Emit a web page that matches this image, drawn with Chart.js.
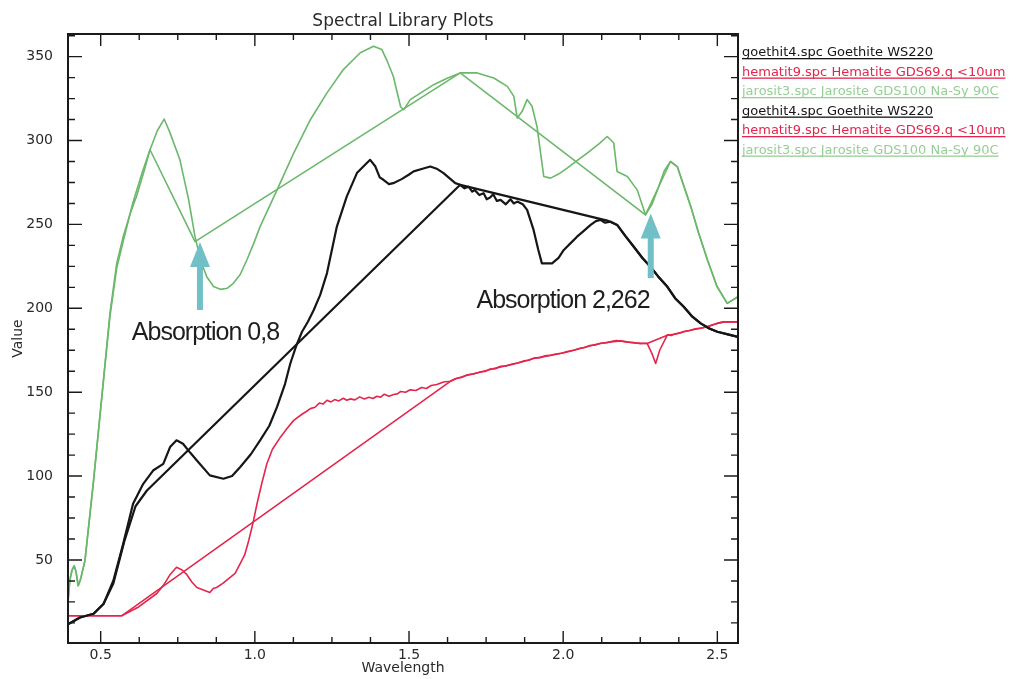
<!DOCTYPE html>
<html><head><meta charset="utf-8">
<script src="https://cdn.jsdelivr.net/npm/chart.js@4.4.1/dist/chart.umd.min.js"></script>
<style>html,body{margin:0;padding:0;background:#fff;overflow:hidden}canvas{display:block}</style>
</head><body>
<canvas id="c" width="1021" height="679"></canvas>
<script>
// ---- data ----
const legendLabels = [
  'goethit4.spc Goethite WS220',
  'hematit9.spc Hematite GDS69.q <10um',
  'jarosit3.spc Jarosite GDS100 Na-Sy 90C'
];
const xTickLabels = ['0.5', '1.0', '1.5', '2.0', '2.5'];
const yTickLabels = ['50', '100', '150', '200', '250', '300', '350'];
const annotationTexts = ['Absorption 0,8', 'Absorption 2,262'];
const annotationWl = [0.822, 2.284];

const goethiteWl = [0.395,0.433,0.477,0.509,0.541,0.573,0.605,0.638,0.670,0.703,0.725,0.746,0.767,0.790,0.812,0.854,0.898,0.926,0.952,0.987,1.017,1.047,1.072,1.098,1.115,1.135,1.153,1.172,1.191,1.212,1.234,1.266,1.298,1.331,1.360,1.374,1.391,1.405,1.417,1.435,1.449,1.476,1.499,1.515,1.541,1.569,1.592,1.612,1.650,1.666,1.680,1.693,1.705,1.713,1.728,1.742,1.752,1.763,1.773,1.785,1.797,1.814,1.829,1.840,1.851,1.869,1.883,1.904,1.919,1.931,1.964,1.985,2.002,2.025,2.045,2.066,2.089,2.106,2.121,2.136,2.153,2.175,2.202,2.229,2.257,2.283,2.308,2.338,2.363,2.391,2.419,2.446,2.474,2.500,2.534,2.567];
const goethiteVal = [11.8,15.7,17.9,23.7,37.6,59.6,83.5,95.4,103.3,107.3,117.3,121.3,119.3,114,109.3,100.4,98.4,100,105.3,113,121.3,130,141.2,155,167.1,178,186,192,199,208,221,248.7,266.6,280.6,286,288.5,284.5,278,276.6,274,274.6,277,279.6,281.6,283,284.5,283,280.6,274.6,273.6,271.5,272.5,269.5,270.5,267.5,268.6,265,266,268,264,264.6,262,265,262.5,263.6,262,258.7,246.7,235,226.8,226.8,230,234.8,239,242.7,246,249.7,252,252.7,251,251.7,249.7,243,236.7,230,224.8,219,212.8,206,200.9,195,191,188,186,184.5,183];

const goethiteHullWl = [0.395,0.433,0.477,0.509,0.541,0.578,0.613,0.650,1.666,2.143,2.175,2.202,2.229,2.257,2.283,2.308,2.338,2.363,2.391,2.419,2.446,2.474,2.500,2.534,2.567];
const goethiteHullVal = [11.8,15.7,17.9,23.7,36,62,82,91.4,273.6,252.3,249.7,243,236.7,230,224.8,219,212.8,206,200.9,195,191,188,186,184.5,183];

const hematiteWl = [0.395,0.568,0.623,0.682,0.704,0.724,0.746,0.764,0.778,0.795,0.812,0.835,0.854,0.865,0.876,0.896,0.920,0.936,0.952,0.967,0.980,0.994,1.007,1.023,1.039,1.057,1.083,1.103,1.126,1.154,1.167,1.180,1.195,1.209,1.222,1.234,1.247,1.259,1.272,1.287,1.298,1.309,1.325,1.340,1.355,1.370,1.383,1.396,1.408,1.420,1.435,1.450,1.462,1.473,1.489,1.504,1.522,1.541,1.556,1.572,1.590,1.612,1.634,1.652,1.670,1.688,1.710,1.733,1.748,1.763,1.780,1.797,1.815,1.834,1.853,1.874,1.889,1.904,1.925,1.945,1.960,1.975,1.995,2.013,2.034,2.055,2.070,2.086,2.104,2.121,2.140,2.156,2.172,2.186,2.208,2.229,2.250,2.272,2.288,2.300,2.313,2.338,2.350,2.363,2.377,2.391,2.410,2.429,2.450,2.468,2.485,2.499,2.521,2.567];
const hematiteVal = [16.7,16.7,22,30,35,41,45.6,44,41.6,37,33.6,32,30.6,33,33.6,36,39.6,42,47.6,53,61.5,72,83.5,96,107.3,116,123.2,128,133.2,137,138.5,140.2,141,143.5,143,145.2,144.2,145.6,144.8,146.4,145.2,146,145.4,147.2,146,147,146.2,147.6,147,148.8,147.6,148.6,149,150.4,150,151.4,151,152.8,152.2,154,154.6,156.1,156.5,158.2,158.8,160.3,160.8,162.2,162.4,163.8,164,165.4,165.6,166.8,167.4,168.7,169,170.3,170.6,171.8,172,172.8,173.2,174.3,175,176.2,176.6,177.8,178.2,179.2,179.5,180.2,180.8,180.5,179.8,179.6,178.9,179.2,173,167.1,175,184.2,183.8,184.8,185.2,186.2,186.8,187.8,188.2,189.2,190.2,191,191.9,191.9];

const hematiteHullWl = [0.395,0.568,1.634,1.652,1.688,1.733,1.763,1.797,1.834,1.874,1.904,1.945,1.975,2.013,2.055,2.086,2.121,2.156,2.186,2.229,2.272,2.338,2.363,2.391,2.429,2.468,2.499,2.521,2.567];
const hematiteHullVal = [16.7,16.7,156.5,158,160.1,162,163.5,165.1,166.5,168.5,170.1,171.5,172.5,174,176,177.5,179,180,180.6,179.4,179,184,184.5,186,187.5,189,191,191.9,191.9];

const jarositeWl = [0.394,0.400,0.407,0.414,0.420,0.427,0.434,0.449,0.477,0.509,0.530,0.552,0.573,0.595,0.616,0.638,0.660,0.684,0.706,0.724,0.757,0.785,0.806,0.825,0.844,0.866,0.888,0.911,0.930,0.952,0.974,0.997,1.017,1.072,1.126,1.180,1.234,1.287,1.342,1.385,1.412,1.430,1.449,1.473,1.483,1.504,1.580,1.622,1.666,1.721,1.775,1.819,1.840,1.851,1.867,1.883,1.899,1.915,1.937,1.959,1.985,2.013,2.045,2.078,2.116,2.143,2.164,2.175,2.208,2.240,2.267,2.288,2.306,2.328,2.348,2.370,2.393,2.414,2.439,2.468,2.499,2.532,2.549,2.567];
const jarositeVal = [25,38,44,46.5,43,34.6,38,49.6,97.4,157,197,226.8,242.7,256,266.6,280,294.5,306,312.8,305,288.5,265,242.7,228,218.8,213,211.3,212,214.9,220,228.8,239,248.7,270.6,292.5,312.4,328.4,342.3,352.3,356.2,354.2,347,338.3,320,318.4,324.4,333.3,337,340.3,340.3,337.3,332.3,326.3,313.4,317.4,324.4,320.4,308.4,278.6,277.6,280,283.6,288,292.5,298,302.4,298.5,281.5,278.6,270.6,255.7,262,270.6,282,287.5,284.5,272,260.6,245,228.8,213,202.9,204.9,206.9];

const jarositeHullWl = [0.394,0.400,0.407,0.414,0.420,0.427,0.434,0.449,0.477,0.509,0.530,0.552,0.573,0.603,0.633,0.660,0.806,1.666,2.267,2.348,2.370,2.393,2.414,2.439,2.468,2.499,2.532,2.549,2.567];
const jarositeHullVal = [25,38,44,46.5,43,34.6,38,49.6,97.4,157,195,224,240,262,280,294.5,239.7,340.3,255.7,287.5,284.5,272,260.6,245,228.8,213,202.9,204.9,206.9];

// ---- styling ----
const BLACK = '#161616', RED = '#e3264d', GREEN = '#6bb86b';
const FONT = '"DejaVu Sans", "Liberation Sans", sans-serif';

function pts(xs, ys) { return xs.map((x, i) => ({ x: x, y: ys[i] })); }
function near(v, step) { return Math.abs(v / step - Math.round(v / step)) < 1e-6; }

const datasets = [
  { label: legendLabels[0], data: pts(goethiteWl, goethiteVal), borderColor: BLACK, borderWidth: 2.2, legendColor: BLACK },
  { label: legendLabels[1], data: pts(hematiteWl, hematiteVal), borderColor: RED, borderWidth: 1.6, legendColor: RED },
  { label: legendLabels[2], data: pts(jarositeWl, jarositeVal), borderColor: GREEN, borderWidth: 1.6, legendColor: '#96cf96' },
  { label: legendLabels[0], data: pts(goethiteHullWl, goethiteHullVal), borderColor: BLACK, borderWidth: 2.2, legendColor: BLACK },
  { label: legendLabels[1], data: pts(hematiteHullWl, hematiteHullVal), borderColor: RED, borderWidth: 1.6, legendColor: RED },
  { label: legendLabels[2], data: pts(jarositeHullWl, jarositeHullVal), borderColor: GREEN, borderWidth: 1.6, legendColor: '#96cf96' }
].map(d => Object.assign(d, { showLine: true, fill: false, pointRadius: 0, tension: 0, borderJoinStyle: 'round' }));

// inward ticks + frame
const frameTicks = {
  id: 'frameTicks',
  afterDatasetsDraw(chart) {
    const { ctx, chartArea: a, scales: { x, y } } = chart;
    ctx.save();
    ctx.strokeStyle = '#1a1a1a';
    ctx.lineWidth = 1.4;
    ctx.beginPath();
    x.ticks.forEach(t => {
      const px = x.getPixelForValue(t.value);
      const len = near(t.value, 0.5) ? 12 : 6;
      ctx.moveTo(px, a.bottom); ctx.lineTo(px, a.bottom - len);
      ctx.moveTo(px, a.top); ctx.lineTo(px, a.top + len);
    });
    y.ticks.forEach(t => {
      const py = y.getPixelForValue(t.value);
      const len = near(t.value, 50) ? 14 : 7;
      ctx.moveTo(a.left, py); ctx.lineTo(a.left + len, py);
      ctx.moveTo(a.right, py); ctx.lineTo(a.right - len, py);
    });
    ctx.stroke();
    ctx.lineWidth = 2;
    ctx.strokeRect(a.left, a.top, a.right - a.left, a.bottom - a.top);
    ctx.restore();
  }
};

// arrows and absorption labels
const absorptionNotes = {
  id: 'absorptionNotes',
  afterDatasetsDraw(chart) {
    const { ctx, scales: { x, y } } = chart;
    const tips = [239.5, 256.5], tails = [199, 218];
    const textWl = [0.601, 1.719], textVal = [181, 200];
    ctx.save();
    ctx.fillStyle = '#72c0c7';
    ctx.strokeStyle = '#72c0c7';
    for (let i = 0; i < 2; i++) {
      const px = x.getPixelForValue(annotationWl[i]);
      const tipY = y.getPixelForValue(tips[i]);
      const tailY = y.getPixelForValue(tails[i]);
      ctx.lineWidth = 6;
      ctx.beginPath();
      ctx.moveTo(px, tailY); ctx.lineTo(px, tipY + 20);
      ctx.stroke();
      ctx.beginPath();
      ctx.moveTo(px, tipY);
      ctx.lineTo(px - 10, tipY + 25);
      ctx.lineTo(px + 10, tipY + 25);
      ctx.closePath();
      ctx.fill();
    }
    ctx.fillStyle = '#1e1e1e';
    ctx.font = '25px "Liberation Sans", Arial, sans-serif';
    try { ctx.letterSpacing = '-1px'; } catch (e) {}
    ctx.textBaseline = 'alphabetic';
    ctx.textAlign = 'left';
    for (let i = 0; i < 2; i++) {
      ctx.fillText(annotationTexts[i], x.getPixelForValue(textWl[i]), y.getPixelForValue(textVal[i]));
    }
    ctx.restore();
  }
};

// underlined legend at the right
const sideLegend = {
  id: 'sideLegend',
  afterDraw(chart) {
    const { ctx, chartArea: a } = chart;
    ctx.save();
    ctx.font = '13px ' + FONT;
    ctx.textBaseline = 'alphabetic';
    ctx.textAlign = 'left';
    chart.data.datasets.forEach((ds, i) => {
      const bx = a.right + 4, by = 56 + i * 19.5;
      ctx.fillStyle = ds.legendColor;
      ctx.fillText(ds.label, bx, by);
      const w = ctx.measureText(ds.label).width;
      ctx.fillRect(bx, by + 2, w, 1.3);
    });
    ctx.restore();
  }
};

new Chart(document.getElementById('c'), {
  type: 'scatter',
  data: { datasets: datasets },
  plugins: [frameTicks, absorptionNotes, sideLegend],
  options: {
    responsive: false,
    animation: false,
    devicePixelRatio: 1,
    events: [],
    layout: { padding: { left: 0, right: 283, top: 0, bottom: 0 } },
    plugins: {
      legend: { display: false },
      tooltip: { enabled: false },
      title: {
        display: true, text: 'Spectral Library Plots', fullSize: false,
        color: '#2a2a2a', font: { family: FONT, size: 17, weight: 'normal', lineHeight: 1.2 },
        padding: { top: 11, bottom: 2.6 }
      }
    },
    scales: {
      x: {
        type: 'linear', min: 0.394, max: 2.567,
        grid: { display: false, drawTicks: false }, border: { display: false },
        ticks: {
          stepSize: 0.125, includeBounds: false, autoSkip: false, maxRotation: 0,
          padding: 4, color: '#2a2a2a', font: { family: FONT, size: 14 },
          callback: v => { const s = v.toFixed(1); return near(v, 0.5) && xTickLabels.includes(s) ? s : ''; }
        },
        title: { display: true, text: 'Wavelength', color: '#2a2a2a', font: { family: FONT, size: 14 }, padding: { top: 0, bottom: 2.6 } },
        afterFit: s => { s.height = 36; }
      },
      y: {
        type: 'linear', min: 0.5, max: 363.5,
        grid: { display: false, drawTicks: false }, border: { display: false },
        ticks: {
          stepSize: 12.5, includeBounds: false, autoSkip: false,
          padding: 15, color: '#2a2a2a', font: { family: FONT, size: 14 },
          callback: v => { const s = String(Math.round(v)); return near(v, 50) && yTickLabels.includes(s) ? s : ''; }
        },
        title: { display: true, text: 'Value', color: '#2a2a2a', font: { family: FONT, size: 14 }, padding: { top: 9.6, bottom: 0 } },
        afterFit: s => { s.width = 68; }
      }
    }
  }
});
</script>
</body></html>
